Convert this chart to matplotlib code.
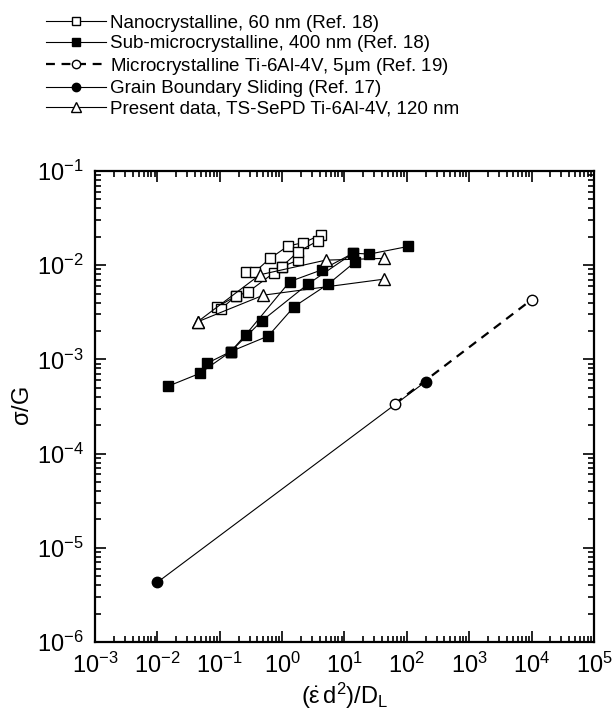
import matplotlib
matplotlib.use('Agg')
import matplotlib.pyplot as plt
from matplotlib.ticker import LogLocator, NullFormatter

plt.rcParams['font.family'] = ['Liberation Sans', 'DejaVu Sans']
plt.rcParams['mathtext.fontset'] = 'custom'
plt.rcParams['mathtext.rm'] = 'Liberation Sans'
plt.rcParams['mathtext.it'] = 'Liberation Sans'
plt.rcParams['mathtext.sf'] = 'Liberation Sans'

# Nanocrystalline, 60 nm (Ref. 18) - open squares, several strain-rate runs
nano_x = [[0.089, 0.182, 0.286, 0.74, 0.98, 1.81],
          [0.103, 0.182],
          [0.263, 0.367, 0.64, 1.25, 2.18, 4.14],
          [0.98, 1.81, 3.79]]
nano_y = [[3.57e-3, 4.7e-3, 5.2e-3, 8.3e-3, 9.6e-3, 1.13e-2],
          [3.4e-3, 4.7e-3],
          [8.5e-3, 8.5e-3, 1.18e-2, 1.6e-2, 1.73e-2, 2.09e-2],
          [9.6e-3, 1.39e-2, 1.82e-2]]

# Sub-microcrystalline, 400 nm (Ref. 18) - filled squares
sub_x = [[0.015, 0.048, 0.15, 0.6, 1.56, 5.5, 15],
         [0.063, 0.15, 0.26, 1.33, 4.3, 13.8, 25, 105],
         [0.15, 0.48, 2.6, 13.8]]
sub_y = [[5.2e-4, 7.1e-4, 1.21e-3, 1.77e-3, 3.63e-3, 6.3e-3, 1.09e-2],
         [9.1e-4, 1.21e-3, 1.82e-3, 6.7e-3, 8.9e-3, 1.34e-2, 1.31e-2, 1.58e-2],
         [1.21e-3, 2.58e-3, 6.3e-3, 1.34e-2]]

# Microcrystalline Ti-6Al-4V, 5 um (Ref. 19)
micro_x = [64, 1.0e4]
micro_y = [3.37e-4, 4.3e-3]

# Grain boundary sliding (Ref. 17)
gbs_x = [0.01, 200]
gbs_y = [4.3e-6, 5.8e-4]

# Present data, TS-SePD Ti-6Al-4V, 120 nm
tri_x = [[0.044, 0.44, 5.0, 43],
         [0.044, 0.50, 43]]
tri_y = [[2.5e-3, 7.9e-3, 1.13e-2, 1.18e-2],
         [2.5e-3, 4.8e-3, 7.1e-3]]

fig = plt.figure(figsize=(6.16, 7.24), dpi=100)
ax = fig.add_axes([0.1542, 0.1133, 0.8101, 0.6506])

lw = 0.8
ms = 7.5
h_nano = h_sub = h_tri = None

for x, y in zip(sub_x, sub_y):
    h_sub, = ax.plot(x, y, '-', color='black', lw=lw, marker='s', ms=ms,
                     mfc='black', mec='black')
for x, y in zip(nano_x, nano_y):
    h_nano, = ax.plot(x, y, '-', color='black', lw=lw, marker='s', ms=ms,
                      mfc='white', mec='black', mew=1.0)
for x, y in zip(tri_x, tri_y):
    h_tri, = ax.plot(x, y, '-', color='black', lw=lw, marker='^', ms=ms + 1,
                     mfc='white', mec='black', mew=1.0)

h_gbs, = ax.plot(gbs_x, gbs_y, '-', color='black', lw=lw, marker='o', ms=ms,
                 mfc='black', mec='black')
h_micro, = ax.plot(micro_x, micro_y, '--', color='black', lw=1.6,
                   dashes=(4, 3), marker='o', ms=ms, mfc='white',
                   mec='black', mew=1.0)

ax.set_xscale('log')
ax.set_yscale('log')
ax.set_xlim(1e-3, 1e5)
ax.set_ylim(1e-6, 1e-1)

ax.xaxis.set_major_locator(LogLocator(base=10, numticks=20))
ax.yaxis.set_major_locator(LogLocator(base=10, numticks=20))
ax.xaxis.set_minor_locator(LogLocator(base=10, subs=range(2, 10), numticks=20))
ax.yaxis.set_minor_locator(LogLocator(base=10, subs=range(2, 10), numticks=20))
ax.xaxis.set_minor_formatter(NullFormatter())
ax.yaxis.set_minor_formatter(NullFormatter())

ax.tick_params(which='both', direction='in', top=True, right=True,
               labelsize=17, width=1.2)
ax.tick_params(which='major', length=8, pad=8)
ax.tick_params(which='minor', length=4)
for s in ax.spines.values():
    s.set_linewidth(1.6)

ax.set_xlabel(r'$(\dot{\varepsilon}\,\mathrm{d}^2)/\mathrm{D}_\mathrm{L}$',
              fontsize=17, labelpad=2)
ax.set_ylabel(r'$\sigma$/G', fontsize=17, labelpad=2)

handles = [h_nano, h_sub, h_micro, h_gbs, h_tri]
labels = ['Nanocrystalline, 60 nm (Ref. 18)',
          'Sub-microcrystalline, 400 nm (Ref. 18)',
          r'Microcrystalline Ti-6Al-4V, 5$\mu$m (Ref. 19)',
          'Grain Boundary Sliding (Ref. 17)',
          'Present data, TS-SePD Ti-6Al-4V, 120 nm']
fig.legend(handles, labels, loc='upper left', bbox_to_anchor=(0.063, 0.99),
           frameon=False, fontsize=13.5, handlelength=3.2, handletextpad=0.2,
           labelspacing=0.18, borderaxespad=0, markerscale=0.8)

fig.savefig('out.png', dpi=100)
